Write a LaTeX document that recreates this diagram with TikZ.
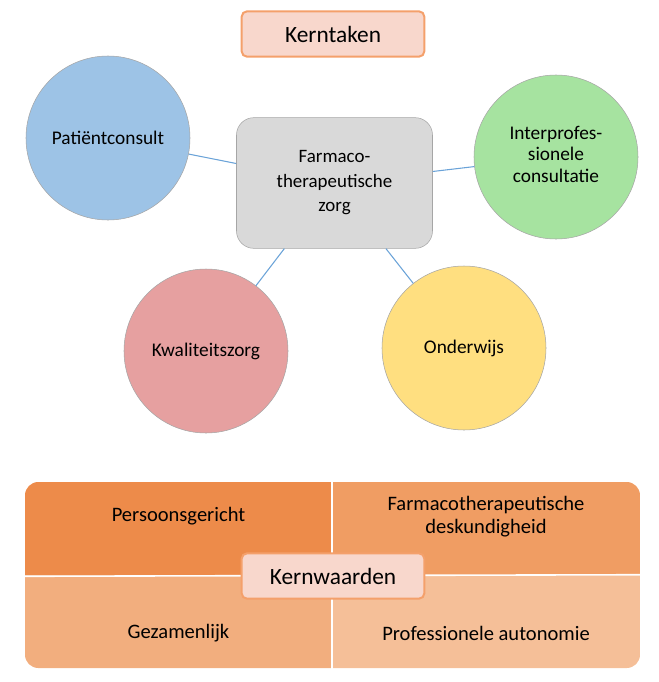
\documentclass[tikz,border=0pt]{standalone}
\usepackage{fontspec}
\setmainfont{Carlito}
\usetikzlibrary{calc}
\definecolor{titlefill}{RGB}{248,215,204}
\definecolor{titleline}{RGB}{244,160,107}
\definecolor{careblue}{RGB}{157,195,230}
\definecolor{caregreen}{RGB}{166,227,160}
\definecolor{carered}{RGB}{230,160,160}
\definecolor{careyellow}{RGB}{255,223,128}
\definecolor{caregray}{RGB}{217,217,217}
\definecolor{linkblue}{RGB}{107,163,216}
\definecolor{valueA}{RGB}{237,139,74}
\definecolor{valueB}{RGB}{240,157,99}
\definecolor{valueC}{RGB}{242,174,126}
\definecolor{valueD}{RGB}{245,191,152}
\tikzset{
  diagram/.style={
    x=0.75pt,
    y=-0.75pt,
    font={\fontsize{14.5}{16.2}\selectfont},
  },
  title/.style={draw=titleline, line width=1.5pt, fill=titlefill, rounded corners=4pt,
    minimum width=137pt, minimum height=34pt, font={\fontsize{17.5}{20}\selectfont}},
  task/.style={circle, draw=gray!70, line width=0.4pt, minimum size=123pt, inner sep=0pt,
    align=center},
  core/.style={draw=gray!70, line width=0.4pt, fill=caregray, rounded corners=13pt,
    minimum width=147pt, minimum height=98pt, align=center,
    font={\fontsize{14.2}{18.4}\selectfont}},
  link/.style={draw=linkblue, line width=0.8pt},
  quad/.style={minimum width=230.25pt, minimum height=70.5pt, inner sep=0pt},
  value/.style={align=center, font={\fontsize{15.4}{17.5}\selectfont}},
}

\begin{document}
\begin{tikzpicture}[diagram]

    \useasboundingbox (0,0) rectangle (658,682);

    \node [title] (kerntaken) at (333,34) {Kerntaken};

    \node [core] (farma) at (334.5,183) {Farmaco-\\therapeutische\\zorg};

    \node [task, fill=careblue] (patient) at (108,138) {Patiëntconsult};
    \node [task, fill=caregreen] (interprof) at (556,157)
    {Interprofes-\\sionele\\consultatie\\[-12pt]};
    \node [task, fill=carered] (kwaliteit) at (206,351) {Kwaliteitszorg};
    \node [task, fill=careyellow] (onderwijs) at (464,348) {Onderwijs};

    \draw [link] (patient) -- (farma);
    \draw [link] (interprof) -- (farma);
    \draw [link] (kwaliteit) -- (farma);
    \draw [link] (onderwijs) -- (farma);

    % kernwaarden block
    \begin{scope}
      \clip [rounded corners=10pt] (25,482) rectangle (640,668);
      \node [quad, fill=valueA] (persoon) at (178.5,529) {};
      \node [quad, fill=valueB] (deskundig) at (486,529) {};
      \node [quad, fill=valueC] (samen) at (178.5,622) {};
      \node [quad, fill=valueD] (autonomie) at (486,622) {};
    \end{scope}
    \draw [white, line width=1.2pt] (persoon.north east) -- (samen.south east);
    \draw [white, line width=1.2pt] (persoon.south west) -- (autonomie.north east);

    \node [value] at ($(persoon)+(0,-13)$) {Persoonsgericht};
    \node [value] at ($(deskundig)+(0,-12.5)$) {Farmacotherapeutische\\deskundigheid};
    \node [value] at ($(samen)+(0,11)$) {Gezamenlijk};
    \node [value] at ($(autonomie)+(0,11)$) {Professionele autonomie};

    \node [title] (kernwaarden) at (333,576) {Kernwaarden};

\end{tikzpicture}
\end{document}
